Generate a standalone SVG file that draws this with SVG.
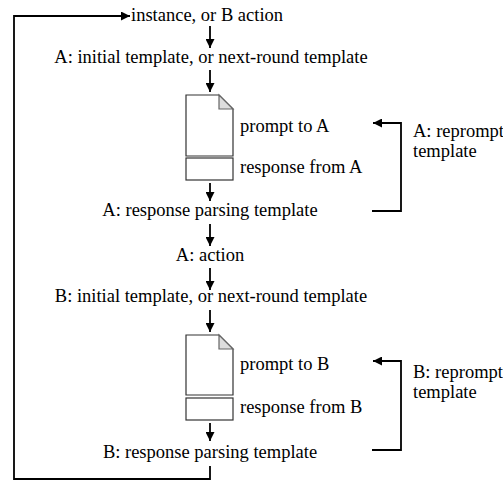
<svg xmlns="http://www.w3.org/2000/svg" width="503" height="482" viewBox="0 0 503 482">
<style>
.c{text-anchor:middle}
.ln{fill:none;stroke:#000;stroke-width:1.8}
.doc{fill:#fff;stroke:#333;stroke-width:1.2}
.fold{fill:#ddd;stroke:#666;stroke-width:1.2}
</style>
<defs>
<marker id="ah" viewBox="0 0 10 10" refX="10" refY="5" markerWidth="5" markerHeight="5" orient="auto" markerUnits="strokeWidth">
<path d="M0,0 L10,5 L0,10 Z" fill="#000"/>
</marker>
</defs>
<rect width="503" height="482" fill="#fff"/>
<g id="connectors">
<path class="ln" d="M210,466 V479 H14 V16 H130" marker-end="url(#ah)"/>
<path class="ln" d="M210,26 V48" marker-end="url(#ah)"/>
<path class="ln" d="M210,70 V92" marker-end="url(#ah)"/>
<path class="ln" d="M210,183 V201" marker-end="url(#ah)"/>
<path class="ln" d="M210,224 V246" marker-end="url(#ah)"/>
<path class="ln" d="M210,268 V290" marker-end="url(#ah)"/>
<path class="ln" d="M210,310 V332" marker-end="url(#ah)"/>
<path class="ln" d="M210,423 V441" marker-end="url(#ah)"/>
<path class="ln" d="M372,211 H401 V123 H373" marker-end="url(#ah)"/>
<path class="ln" d="M372,450 H401 V361 H373" marker-end="url(#ah)"/>
</g>
<g id="instance"><text style="font-family:'Liberation Serif';font-size:18.5px" font-family="Liberation Serif" font-size="18.5" x="131" y="21">instance, or B action</text></g>
<g id="a-initial"><text style="font-family:'Liberation Serif';font-size:18.5px" font-family="Liberation Serif" font-size="18.5" text-anchor="middle" x="211" y="63">A: initial template, or next-round template</text></g>
<g id="a-doc">
<path class="doc" d="M186,95 H219 L233,109 V156 H186 Z"/>
<path class="fold" d="M219,95 V109 H233 Z"/>
<rect class="doc" x="186" y="158" width="47" height="22"/>
<text style="font-family:'Liberation Serif';font-size:18.5px" font-family="Liberation Serif" font-size="18.5" x="240" y="132">prompt to A</text>
<text style="font-family:'Liberation Serif';font-size:18.5px" font-family="Liberation Serif" font-size="18.5" x="240" y="173">response from A</text>
</g>
<g id="a-parse"><text style="font-family:'Liberation Serif';font-size:18.5px" font-family="Liberation Serif" font-size="18.5" text-anchor="middle" x="210" y="216">A: response parsing template</text></g>
<g id="a-reprompt"><text style="font-family:'Liberation Serif';font-size:18.5px" font-family="Liberation Serif" font-size="18.5" x="413" y="137">A: reprompt</text><text style="font-family:'Liberation Serif';font-size:18.5px" font-family="Liberation Serif" font-size="18.5" x="413" y="157">template</text></g>
<g id="a-action"><text style="font-family:'Liberation Serif';font-size:18.5px" font-family="Liberation Serif" font-size="18.5" text-anchor="middle" x="210" y="261">A: action</text></g>
<g id="b-initial"><text style="font-family:'Liberation Serif';font-size:18.5px" font-family="Liberation Serif" font-size="18.5" text-anchor="middle" x="211" y="302">B: initial template, or next-round template</text></g>
<g id="b-doc">
<path class="doc" d="M186,335 H219 L233,349 V395 H186 Z"/>
<path class="fold" d="M219,335 V349 H233 Z"/>
<rect class="doc" x="186" y="398" width="47" height="22"/>
<text style="font-family:'Liberation Serif';font-size:18.5px" font-family="Liberation Serif" font-size="18.5" x="240" y="370">prompt to B</text>
<text style="font-family:'Liberation Serif';font-size:18.5px" font-family="Liberation Serif" font-size="18.5" x="240" y="413">response from B</text>
</g>
<g id="b-parse"><text style="font-family:'Liberation Serif';font-size:18.5px" font-family="Liberation Serif" font-size="18.5" text-anchor="middle" x="210" y="458">B: response parsing template</text></g>
<g id="b-reprompt"><text style="font-family:'Liberation Serif';font-size:18.5px" font-family="Liberation Serif" font-size="18.5" x="413" y="378">B: reprompt</text><text style="font-family:'Liberation Serif';font-size:18.5px" font-family="Liberation Serif" font-size="18.5" x="413" y="398">template</text></g>
</svg>
